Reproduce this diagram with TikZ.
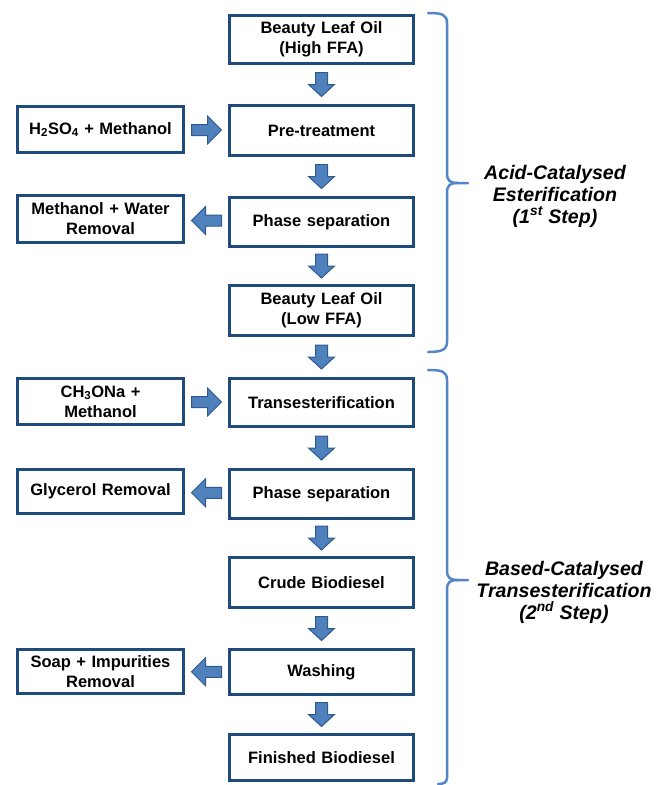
\documentclass[tikz,border=0pt]{standalone}
\usepackage{fontspec}
\setmainfont{Liberation Sans}
\usetikzlibrary{calc}
\definecolor{boxline}{HTML}{1F4A7C}
\definecolor{arrfill}{HTML}{4F81BD}
\definecolor{arrline}{HTML}{2F5A8E}
\definecolor{bracec}{HTML}{5286C6}
\tikzset{
  mainbox/.style={draw=boxline, line width=3pt, fill=white, minimum width=184pt, inner sep=2pt,
     align=center, font=\fontsize{16.5}{20}\selectfont\bfseries, text width=180pt},
  sidebox/.style={draw=boxline, line width=3pt, fill=white, minimum width=166pt, inner sep=2pt,
     align=center, font=\fontsize{16.5}{20}\selectfont\bfseries, text width=162pt},
  barrow/.style={fill=arrfill, draw=arrline, line width=1pt, line join=miter},
  bracest/.style={draw=bracec, line width=2.5pt, line cap=round},
  steplabel/.style={align=center, font=\fontsize{19.6}{22}\selectfont\bfseries\itshape}
}
% vertical block arrow centred in the gap between two nodes
\newcommand\downblock[2]{%
  \path[barrow] let \p1=($(#1.south)!0.5!(#2.north)$) in
    ({\x1-6pt},{\y1+12pt}) -- ({\x1+6pt},{\y1+12pt}) -- ({\x1+6pt},\y1) --
    ({\x1+13pt},\y1) -- (\x1,{\y1-12pt}) -- ({\x1-13pt},\y1) -- ({\x1-6pt},\y1) -- cycle;}
% horizontal block arrow pointing right, from #1 to #2
\newcommand\rightblock[2]{%
  \path[barrow] let \p1=($(#1.east)!0.5!(#2.west)$) in
    ({\x1-15pt},{\y1+5.5pt}) -- ({\x1+1pt},{\y1+5.5pt}) -- ({\x1+1pt},{\y1+14pt}) --
    ({\x1+15pt},\y1) -- ({\x1+1pt},{\y1-14pt}) -- ({\x1+1pt},{\y1-5.5pt}) -- ({\x1-15pt},{\y1-5.5pt}) -- cycle;}
% horizontal block arrow pointing left, from #1 (main) to #2 (side)
\newcommand\leftblock[2]{%
  \path[barrow] let \p1=($(#1.west)!0.5!(#2.east)$) in
    ({\x1+15pt},{\y1+5.5pt}) -- ({\x1-1pt},{\y1+5.5pt}) -- ({\x1-1pt},{\y1+14pt}) --
    ({\x1-15pt},\y1) -- ({\x1-1pt},{\y1-14pt}) -- ({\x1-1pt},{\y1-5.5pt}) -- ({\x1+15pt},{\y1-5.5pt}) -- cycle;}
\begin{document}
\begin{tikzpicture}[x=1pt,y=-1pt]
\useasboundingbox (0,0) rectangle (658,785);
% main column
\node[mainbox, minimum height=48pt] (oilh) at (321.5,39.5) {Beauty Leaf Oil\\(High FFA)};
\node[mainbox, minimum height=50pt] (pre) at (321.5,130.5) {Pre-treatment};
\node[mainbox, minimum height=49pt] (ps1) at (321.5,222) {Phase separation};
\node[mainbox, minimum height=50pt] (oill) at (321.5,310.5) {Beauty Leaf Oil\\(Low FFA)};
\node[mainbox, minimum height=48pt] (trans) at (321.5,402.5) {Transesterification};
\node[mainbox, minimum height=49pt] (ps2) at (321.5,494) {Phase separation};
\node[mainbox, minimum height=50pt] (crude) at (321.5,582.5) {Crude Biodiesel};
\node[mainbox, minimum height=45pt] (wash) at (321.5,672) {Washing};
\node[mainbox, minimum height=46pt] (fin) at (321.5,757.5) {Finished Biodiesel};
% side boxes
\node[sidebox, minimum height=46pt] (acid) at (100.5,129.5) {H\textsubscript{2}SO\textsubscript{4} + Methanol};
\node[sidebox, minimum height=47pt] (mw) at (100.5,219) {Methanol + Water\\Removal};
\node[sidebox, minimum height=46pt] (base) at (100.5,401.5) {CH\textsubscript{3}ONa +\\Methanol};
\node[sidebox, minimum height=44pt] (gly) at (100.5,491.5) {Glycerol Removal};
\node[sidebox, minimum height=44pt] (soap) at (100.5,671.5) {Soap + Impurities\\Removal};
% block arrows
\downblock{oilh}{pre}
\downblock{pre}{ps1}
\downblock{ps1}{oill}
\downblock{oill}{trans}
\downblock{trans}{ps2}
\downblock{ps2}{crude}
\downblock{crude}{wash}
\downblock{wash}{fin}
\rightblock{acid}{pre}
\rightblock{base}{trans}
\leftblock{ps1}{mw}
\leftblock{ps2}{gly}
\leftblock{wash}{soap}
% braces
\coordinate (b1top) at (428,13);
\coordinate (b1tip) at (468,183);
\coordinate (b1bot) at (428,352);
\draw[bracest] (b1top) .. controls (441,13) and (447,14) .. (447,23) -- (447,173)
   .. controls (447,181) and (450,183) .. (458,183) -- (b1tip);
\draw[bracest] (458,183) .. controls (450,183) and (447,185) .. (447,193) -- (447,342)
   .. controls (447,350) and (441,352) .. (b1bot);
\coordinate (b2top) at (428,370);
\coordinate (b2tip) at (468,580);
\draw[bracest] (b2top) .. controls (441,370) and (447,371) .. (447,380) -- (447,570)
   .. controls (447,578) and (450,580) .. (458,580) -- (b2tip);
\draw[bracest] (458,580) .. controls (450,580) and (447,582) .. (447,590) -- (447,778)
   .. controls (447,782) and (444,784) .. (438,784);
% labels
\node[steplabel] (lab1) at (555,196) {Acid-Catalysed\\Esterification\\(1\textsuperscript{st} Step)};
\node[steplabel] (lab2) at (564,592) {Based-Catalysed\\Transesterification\\(2\textsuperscript{nd} Step)};
\end{tikzpicture}
\end{document}
